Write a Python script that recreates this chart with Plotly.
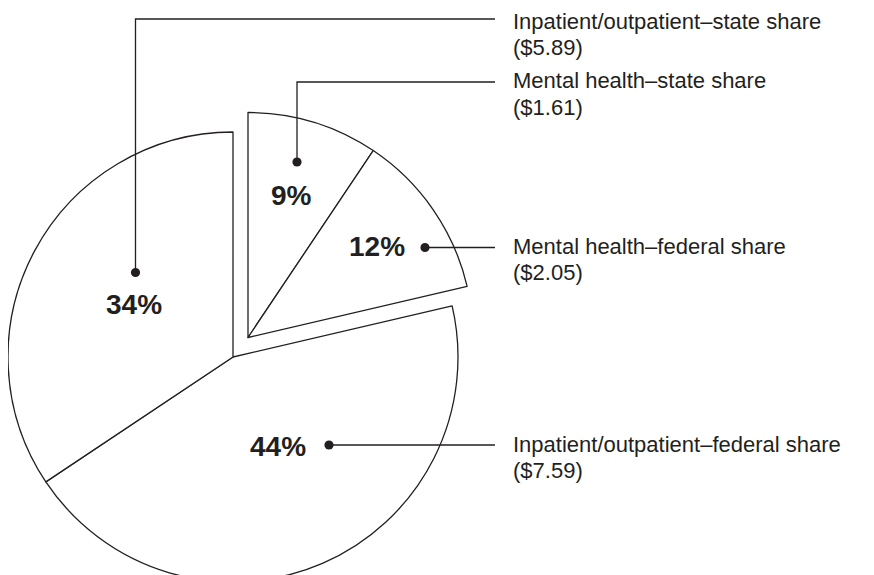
import plotly.graph_objects as go

W, H = 874, 575
PAGE = 8  # the page body margin shifts the figure by this many pixels

# slices, clockwise from 12 o'clock
labels = ["Mental health–state share", "Mental health–federal share",
          "Inpatient/outpatient–federal share", "Inpatient/outpatient–state share"]
amounts = [1.61, 2.05, 7.59, 5.89]
exploded = [True, True, False, False]

INK = "#231f20"
CLEAR = "rgba(0,0,0,0)"
FONT = "Liberation Sans, Arial, Helvetica, sans-serif"

# pie geometry (screen pixels)
R = 225
CX, CY = 233, 357
DX, DY = 15, -19.5   # offset of the exploded mental-health wedge


def px(x):
    return (x - PAGE) / W


def py(y):
    return 1 - (y - PAGE) / H


def domain(cx, cy):
    return dict(x=[max(0, px(cx - R)), min(1, px(cx + R))],
                y=[max(0, py(cy + R)), min(1, py(cy - R))])


def pie(cx, cy, show):
    return go.Pie(
        labels=labels, values=amounts, sort=False,
        direction="clockwise", rotation=0,
        textinfo="none", hoverinfo="skip", showlegend=False,
        marker=dict(colors=["white" if s else CLEAR for s in show],
                    line=dict(color=INK, width=[1.3 if s else 0 for s in show])),
        domain=domain(cx, cy),
    )


fig = go.Figure()
fig.add_trace(pie(CX, CY, [not e for e in exploded]))
fig.add_trace(pie(CX + DX, CY + DY, exploded))

total = sum(amounts)
pcts = [f"{round(100 * a / total)}%" for a in amounts]

# callout layout: percent text, dot, elbow y (None = straight)
callouts = [
    dict(text=(291, 196), dot=(297, 162), elbow=82),
    dict(text=(377, 247), dot=(425, 247.5), elbow=None),
    dict(text=(278, 446), dot=(329, 445), elbow=None),
    dict(text=(134, 304), dot=(135.5, 272.5), elbow=19),
]
LINE_END = 495
LABEL_X = 511
LABEL_SIZE = 22
LINE_GAP = 26

shapes, annotations = [], []
for lab, amt, pct, c in zip(labels, amounts, pcts, callouts):
    dx_, dy_ = c["dot"]
    ly = c["elbow"] if c["elbow"] is not None else dy_
    if c["elbow"] is not None:
        path = f"M {px(dx_)},{py(dy_)} L {px(dx_)},{py(ly)} L {px(LINE_END)},{py(ly)}"
    else:
        path = f"M {px(dx_)},{py(dy_)} L {px(LINE_END)},{py(ly)}"
    shapes.append(dict(type="path", xref="paper", yref="paper", path=path,
                       line=dict(color=INK, width=1.3)))
    rdot = 4.6
    shapes.append(dict(type="circle", xref="paper", yref="paper",
                       x0=px(dx_ - rdot), x1=px(dx_ + rdot),
                       y0=py(dy_ + rdot), y1=py(dy_ - rdot),
                       fillcolor=INK, line=dict(color=INK, width=0)))
    tx, ty = c["text"]
    annotations.append(dict(x=px(tx), y=py(ty), xref="paper", yref="paper",
                            text=f"<b>{pct}</b>", showarrow=False,
                            xanchor="center", yanchor="middle",
                            font=dict(family=FONT, size=28, color=INK)))
    # keep the top label inside the figure
    y1 = max(ly - 1, PAGE + 0.6 * LABEL_SIZE)
    for i, line in enumerate([lab, f"(${amt:.2f})"]):
        annotations.append(dict(x=px(LABEL_X), y=py(y1 + i * LINE_GAP),
                                xref="paper", yref="paper",
                                text=line, showarrow=False,
                                xanchor="left", yanchor="middle", align="left",
                                font=dict(family=FONT, size=LABEL_SIZE, color=INK)))

fig.update_layout(
    width=W, height=H,
    margin=dict(l=0, r=0, t=0, b=0),
    paper_bgcolor="white", plot_bgcolor="white",
    shapes=shapes, annotations=annotations,
)

fig.write_html("out.html")
